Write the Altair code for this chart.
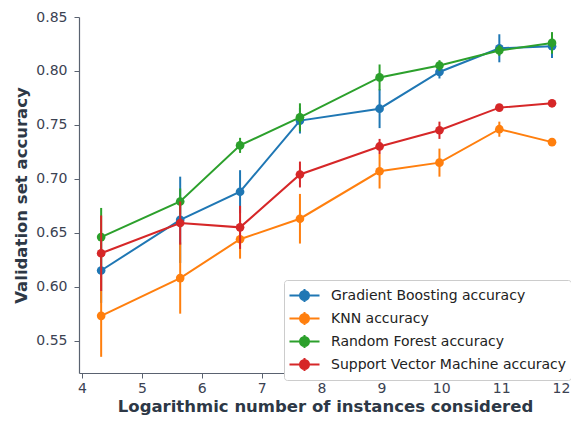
import altair as alt
import pandas as pd

models = ["Gradient Boosting accuracy", "KNN accuracy", "Random Forest accuracy",
          "Support Vector Machine accuracy"]
colors = ["#1f77b4", "#ff7f0e", "#2ca02c", "#d62728"]

x_log = [4.32, 5.64, 6.64, 7.64, 8.97, 9.97, 10.97, 11.85]

gb_acc = [0.615, 0.662, 0.688, 0.754, 0.765, 0.799, 0.821, 0.823]
gb_err = [0.030, 0.040, 0.020, 0.012, 0.018, 0.006, 0.013, 0.011]

knn_acc = [0.573, 0.608, 0.644, 0.663, 0.707, 0.715, 0.746, 0.734]
knn_err = [0.038, 0.033, 0.018, 0.023, 0.016, 0.013, 0.007, 0.002]

rf_acc = [0.646, 0.679, 0.731, 0.757, 0.794, 0.805, 0.819, 0.826]
rf_err = [0.027, 0.012, 0.007, 0.013, 0.012, 0.005, 0.005, 0.010]

svm_acc = [0.631, 0.659, 0.655, 0.704, 0.730, 0.745, 0.766, 0.770]
svm_err = [0.035, 0.020, 0.020, 0.012, 0.007, 0.008, 0.002, 0.002]

series = [(gb_acc, gb_err), (knn_acc, knn_err), (rf_acc, rf_err), (svm_acc, svm_err)]

rows = []
for m, (acc, err) in zip(models, series):
    for xv, a, e in zip(x_log, acc, err):
        rows.append({"model": m, "x": xv, "acc": a, "lo": a - e, "hi": a + e})
df = pd.DataFrame(rows)

xscale = alt.Scale(domain=[3.95, 12.167], nice=False, zero=False)
yscale = alt.Scale(domain=[0.52, 0.85], nice=False, zero=False)
cscale = alt.Scale(domain=models, range=colors)

legend_path = ("M-1.43,0L1.43,0M0,-0.62L0,0.62"
               "M0.43,0A0.43,0.43,0,1,1,-0.43,0A0.43,0.43,0,1,1,0.43,0Z")

xenc = alt.X("x:Q", scale=xscale,
             axis=alt.Axis(title="Logarithmic number of instances considered",
                           values=[4, 5, 6, 7, 8, 9, 10, 11, 12], format="d"))
yenc = alt.Y("acc:Q", scale=yscale,
             axis=alt.Axis(title="Validation set accuracy",
                           values=[0.55, 0.60, 0.65, 0.70, 0.75, 0.80, 0.85], format=".2f"))
cenc = alt.Color("model:N", scale=cscale,
                 legend=alt.Legend(title=None, orient="none", legendX=205, legendY=263,
                                   symbolType=legend_path, symbolSize=441,
                                   symbolOffset=5, labelOffset=15,
                                   symbolStrokeWidth=2, labelFontSize=14,
                                   labelFont="DejaVu Sans", labelColor="#222222",
                                   padding=4, rowPadding=0, strokeColor="#cccccc",
                                   fillColor="white", cornerRadius=3,
                                   labelLimit=400))

layers = []
for m in models:
    sub = df[df["model"] == m]
    base = alt.Chart(sub)
    pts = base.mark_point(filled=True, size=75, opacity=1).encode(x=xenc, y=yenc, color=cenc)
    line = base.mark_line(strokeWidth=2).encode(x=xenc, y=yenc, color=cenc)
    rule = base.mark_rule(strokeWidth=2).encode(x=xenc, y=alt.Y("lo:Q", scale=yscale),
                                                  y2="hi:Q", color=cenc)
    layers += [pts, line, rule]

chart = alt.layer(*layers).properties(
    width=492, height=356,
    autosize=alt.AutoSizeParams(type="none"),
    padding={"left": 71, "top": 9, "right": 0, "bottom": 44},
).configure_view(stroke=None).configure_axis(
    labelFont="DejaVu Sans", labelFontSize=14, labelColor="#3b4252",
    titleFont="DejaVu Sans", titleFontSize=16.5, titleFontWeight="bold", titleColor="#2d3846",
    domainColor="#5a6270", tickColor="#5a6270", tickSize=5, grid=False,
    domainWidth=1.2, labelPadding=7,
).configure_axisX(titlePadding=3, labelPadding=3).configure_axisY(titlePadding=6)

chart.save("out.html", embed_options={"renderer": "svg", "actions": False})
